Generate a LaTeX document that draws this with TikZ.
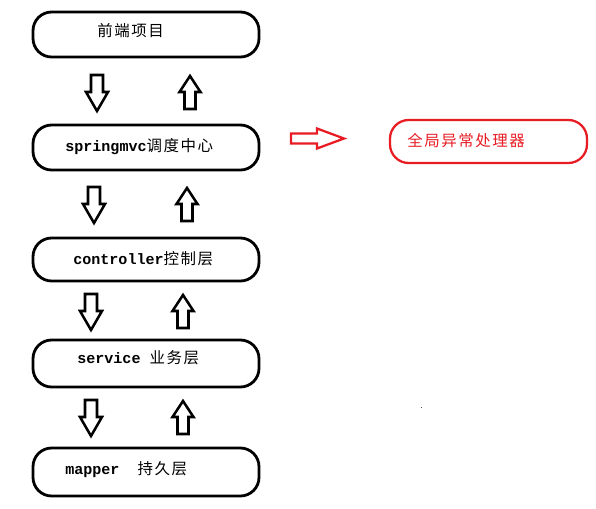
\documentclass[tikz,border=0pt]{standalone}
\usepackage{fontspec}
\newfontfamily\cjkf[LetterSpace=10]{Noto Sans CJK SC}
\newcommand\cjk{\cjkf\fontsize{11.6}{13}\selectfont}
\newfontfamily\latf{Liberation Mono}
\newcommand\lat{\latf\fontsize{11.3}{13}\selectfont}
\definecolor{hred}{RGB}{232,28,36}
\tikzset{
  x=0.75pt, y=-0.75pt,
  layerbox/.style={draw=black, line width=2.1pt, rounded corners=14pt, minimum width=169.5pt, inner sep=0pt},
  redbox/.style={draw=hred, line width=1.7pt, rounded corners=14pt, minimum width=147.75pt, minimum height=32.25pt, inner sep=0pt},
  lbl/.style={anchor=west, inner sep=0pt, font=\fontsize{11}{13}\selectfont, text=black},
  arr/.style={draw=black, line width=1.9pt, fill=white, line join=miter},
  rarr/.style={draw=hred, line width=1.7pt, fill=white, line join=miter},
  pics/darrow/.style={code={\draw[arr] (-6,0) -- (6,0) -- (6,17) -- (11,17) -- (0,36) -- (-11,17) -- (-6,17) -- cycle;}},
  pics/uarrow/.style={code={\draw[arr] (0,0) -- (10.5,16) -- (5.5,16) -- (5.5,33) -- (-5.5,33) -- (-5.5,16) -- (-10.5,16) -- cycle;}},
  pics/rarrow/.style={code={\draw[rarr] (0,-5) -- (26,-5) -- (26,-10) -- (53,0) -- (26,10) -- (26,5) -- (0,5) -- cycle;}}
}
\begin{document}
\begin{tikzpicture}
\useasboundingbox[fill=white] (0,0) rectangle (596,508);
% layer boxes
\node[layerbox, minimum height=33.75pt] (b1) at (146,34.5) {};
\node[layerbox, minimum height=33.75pt] (b2) at (146,147.5) {};
\node[layerbox, minimum height=32.25pt] (b3) at (146,259.5) {};
\node[layerbox, minimum height=35.25pt] (b4) at (146,363.5) {};
\node[layerbox, minimum height=36pt] (b5) at (146,472) {};
% labels
\node[lbl] (t1) at (97,31) {\cjk 前端项目};
\node[lbl] (t2) at (65,147) {{\lat\bfseries springmvc}{\cjk 调度中心}};
\node[lbl] (t3) at (73,259) {{\lat\bfseries controller}{\cjk 控制层}};
\node[lbl] (t4) at (77,358) {{\lat\bfseries service\ }{\cjk 业务层}};
\node[lbl] (t5) at (65,470) {{\lat\bfseries mapper\ \ }{\cjk 持久层}};
% exception handler
\node[redbox] (h) at (488.5,141.5) {};
\node[lbl, text=hred] (th) at (407,141) {\cjk 全局异常处理器};
% hollow arrows
\pic (d1) at (97,75) {darrow};
\pic (u1) at (190,76) {uarrow};
\pic (d2) at (94,187) {darrow};
\pic (u2) at (187,188) {uarrow};
\pic (d3) at (91,294) {darrow};
\pic (u3) at (183,295) {uarrow};
\pic (d4) at (91,400) {darrow};
\pic (u4) at (183,401) {uarrow};
\pic (r1) at (291,138.5) {rarrow};
% stray dot
\fill[black!70] (420.5,406.5) rectangle (422,408);
\end{tikzpicture}
\end{document}
